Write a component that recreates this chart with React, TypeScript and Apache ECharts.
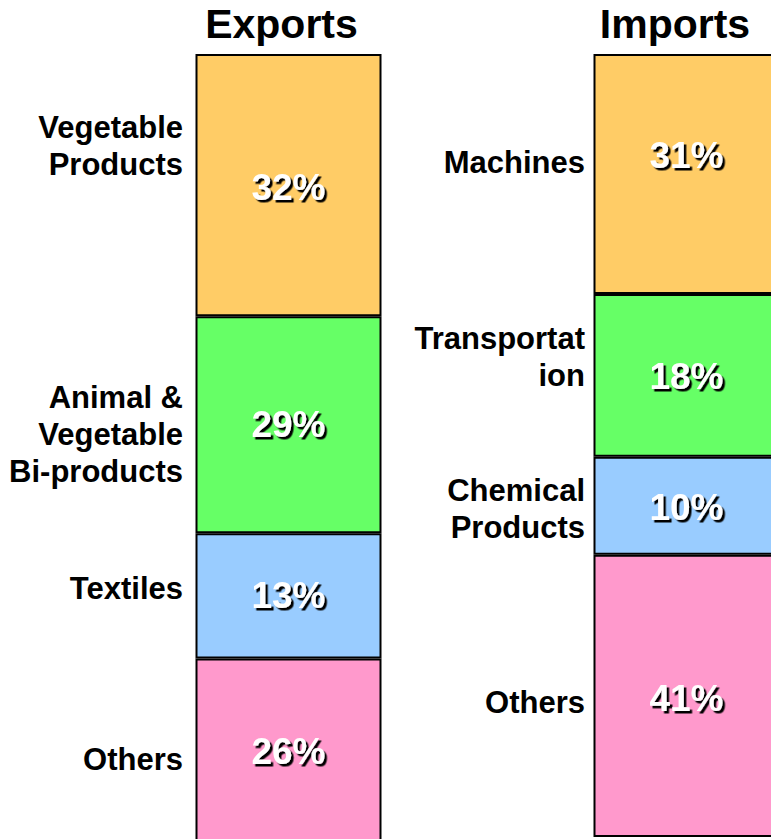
import React, { useEffect, useRef } from "react";
import * as echarts from "echarts";

// ---- data ----
const categories = ["Exports", "Imports"];

const exportNames = ["Vegetable\nProducts", "Animal &\nVegetable\nBi-products", "Textiles", "Others"];
const exportShares = [33.5, 27.7, 16.0, 23.5]; // drawn segment heights
const exportLabels = ["32%", "29%", "13%", "26%"];

const importNames = ["Machines", "Transportat\nion", "Chemical\nProducts", "Others"];
const importShares = [30.65, 20.8, 12.5, 36.05]; // drawn segment heights
const importLabels = ["31%", "18%", "10%", "41%"];

const segmentColors = ["#FFCC66", "#66FF66", "#99CCFF", "#FF99CC"];

// ---- styling (offsets in px) ----
const pctOffsetExp = [2, 0, 0, 1];
const pctOffsetImp = [-18, 1, 2, 3];
const nameOffsetExp = [-38.7, 9.3, -7.8, 9.5];
const nameOffsetImp = [-11, -18.4, 3.5, 6.2];

const FONT = "'Liberation Sans', Arial, Helvetica, sans-serif";

export default function App() {
  const ref = useRef<HTMLDivElement>(null);

  useEffect(() => {
    if (!ref.current) return;
    const chart = echarts.init(ref.current, null, { renderer: "svg" });

    const mainSeries = segmentColors.map((c, i) => ({
      type: "bar",
      name: "seg" + i,
      stack: "main",
      barWidth: 186,
      barGap: "-100%",
      silent: true,
      itemStyle: { color: c, borderColor: "#000", borderWidth: 2 },
      data: [
        {
          value: exportShares[i],
          label: { offset: [0, pctOffsetExp[i]] },
        },
        {
          value: importShares[i],
          label: { offset: [0, pctOffsetImp[i]] },
        },
      ],
      label: {
        show: true,
        position: "inside",
        fontFamily: FONT,
        fontWeight: "bold",
        fontSize: 37,
        color: "#fff",
        textShadowColor: "#000",
        textShadowBlur: 1.5,
        textShadowOffsetX: 2.5,
        textShadowOffsetY: 2.5,
        formatter: (p: any) => (p.dataIndex === 0 ? exportLabels[i] : importLabels[i]),
      },
    }));

    const nameSeries = segmentColors.map((_c, i) => ({
      type: "bar",
      name: "name" + i,
      stack: "names",
      barWidth: 186,
      barGap: "-100%",
      silent: true,
      itemStyle: { color: "rgba(0,0,0,0)", borderWidth: 0 },
      data: [
        {
          value: exportShares[i],
          label: { distance: 12.5, offset: [0, nameOffsetExp[i]] },
        },
        {
          value: importShares[i],
          label: { distance: 8.5, offset: [0, nameOffsetImp[i]] },
        },
      ],
      label: {
        show: true,
        position: "left",
        align: "right",
        fontFamily: FONT,
        fontWeight: "bold",
        fontSize: 31,
        lineHeight: 37,
        color: "#000",
        formatter: (p: any) => (p.dataIndex === 0 ? exportNames[i] : importNames[i]),
      },
    }));

    chart.setOption({
      animation: false,
      backgroundColor: "#fff",
      grid: {
        left: 89.5,
        top: 54,
        width: 796,
        height: 790.83,
        containLabel: false,
        outerBoundsMode: "none",
      },
      xAxis: {
        type: "category",
        data: categories,
        position: "top",
        axisLine: { show: false },
        axisTick: { show: false },
        splitLine: { show: false },
        axisLabel: {
          margin: 10,
          interval: 0,
          formatter: (v: string) => (v === "Exports" ? "{e|" + v + "}" : "{i|" + v + "}"),
          rich: {
            e: { fontFamily: FONT, fontWeight: "bold", fontSize: 41, color: "#000", padding: [0, 14, 0, 0] },
            i: { fontFamily: FONT, fontWeight: "bold", fontSize: 41, color: "#000", padding: [0, 23, 0, 0] },
          },
        },
      },
      yAxis: {
        type: "value",
        inverse: true,
        min: 0,
        max: 101,
        show: false,
        splitLine: { show: false },
      },
      series: [...mainSeries, ...nameSeries],
    });

    return () => chart.dispose();
  }, []);

  return (
    <div
      ref={ref}
      style={{ position: "absolute", left: 0, top: 0, width: 771, height: 839 }}
    />
  );
}
